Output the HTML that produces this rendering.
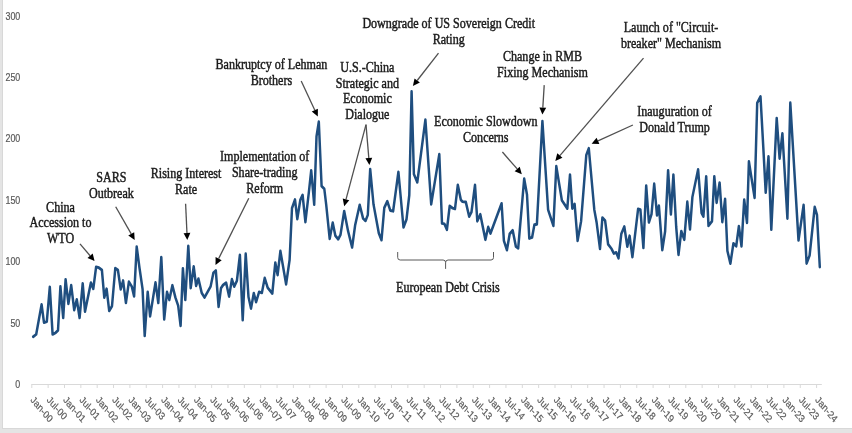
<!DOCTYPE html><html><head><meta charset="utf-8"><style>html,body{margin:0;padding:0;background:#e4e4e4;}svg{display:block;}</style></head><body>
<svg width="852" height="433" viewBox="0 0 852 433">
<rect x="0" y="0" width="852" height="433" fill="#e4e4e4"/>
<rect x="2" y="0" width="850" height="429" fill="#d8d8d8"/>
<rect x="3" y="0" width="849" height="428" fill="#ffffff"/>
<g>
<text transform="translate(20.3,388) scale(0.855,1)" text-anchor="end" font-family="Liberation Sans, sans-serif" font-size="10.4" fill="#595959" stroke="#595959" stroke-width="0.2">0</text>
<text transform="translate(20.3,326.58) scale(0.855,1)" text-anchor="end" font-family="Liberation Sans, sans-serif" font-size="10.4" fill="#595959" stroke="#595959" stroke-width="0.2">50</text>
<text transform="translate(20.3,265.17) scale(0.855,1)" text-anchor="end" font-family="Liberation Sans, sans-serif" font-size="10.4" fill="#595959" stroke="#595959" stroke-width="0.2">100</text>
<text transform="translate(20.3,203.75) scale(0.855,1)" text-anchor="end" font-family="Liberation Sans, sans-serif" font-size="10.4" fill="#595959" stroke="#595959" stroke-width="0.2">150</text>
<text transform="translate(20.3,142.34) scale(0.855,1)" text-anchor="end" font-family="Liberation Sans, sans-serif" font-size="10.4" fill="#595959" stroke="#595959" stroke-width="0.2">200</text>
<text transform="translate(20.3,80.92) scale(0.855,1)" text-anchor="end" font-family="Liberation Sans, sans-serif" font-size="10.4" fill="#595959" stroke="#595959" stroke-width="0.2">250</text>
<text transform="translate(20.3,19.51) scale(0.855,1)" text-anchor="end" font-family="Liberation Sans, sans-serif" font-size="10.4" fill="#595959" stroke="#595959" stroke-width="0.2">300</text>
<line x1="31.3" y1="384.5" x2="821.8" y2="384.5" stroke="#d9d9d9" stroke-width="1"/>
<line x1="31.8" y1="384.5" x2="31.8" y2="388" stroke="#d9d9d9" stroke-width="1"/>
<line x1="48.15" y1="384.5" x2="48.15" y2="388" stroke="#d9d9d9" stroke-width="1"/>
<line x1="64.5" y1="384.5" x2="64.5" y2="388" stroke="#d9d9d9" stroke-width="1"/>
<line x1="80.85" y1="384.5" x2="80.85" y2="388" stroke="#d9d9d9" stroke-width="1"/>
<line x1="97.2" y1="384.5" x2="97.2" y2="388" stroke="#d9d9d9" stroke-width="1"/>
<line x1="113.55" y1="384.5" x2="113.55" y2="388" stroke="#d9d9d9" stroke-width="1"/>
<line x1="129.9" y1="384.5" x2="129.9" y2="388" stroke="#d9d9d9" stroke-width="1"/>
<line x1="146.25" y1="384.5" x2="146.25" y2="388" stroke="#d9d9d9" stroke-width="1"/>
<line x1="162.6" y1="384.5" x2="162.6" y2="388" stroke="#d9d9d9" stroke-width="1"/>
<line x1="178.95" y1="384.5" x2="178.95" y2="388" stroke="#d9d9d9" stroke-width="1"/>
<line x1="195.3" y1="384.5" x2="195.3" y2="388" stroke="#d9d9d9" stroke-width="1"/>
<line x1="211.65" y1="384.5" x2="211.65" y2="388" stroke="#d9d9d9" stroke-width="1"/>
<line x1="228" y1="384.5" x2="228" y2="388" stroke="#d9d9d9" stroke-width="1"/>
<line x1="244.35" y1="384.5" x2="244.35" y2="388" stroke="#d9d9d9" stroke-width="1"/>
<line x1="260.7" y1="384.5" x2="260.7" y2="388" stroke="#d9d9d9" stroke-width="1"/>
<line x1="277.05" y1="384.5" x2="277.05" y2="388" stroke="#d9d9d9" stroke-width="1"/>
<line x1="293.4" y1="384.5" x2="293.4" y2="388" stroke="#d9d9d9" stroke-width="1"/>
<line x1="309.75" y1="384.5" x2="309.75" y2="388" stroke="#d9d9d9" stroke-width="1"/>
<line x1="326.1" y1="384.5" x2="326.1" y2="388" stroke="#d9d9d9" stroke-width="1"/>
<line x1="342.45" y1="384.5" x2="342.45" y2="388" stroke="#d9d9d9" stroke-width="1"/>
<line x1="358.8" y1="384.5" x2="358.8" y2="388" stroke="#d9d9d9" stroke-width="1"/>
<line x1="375.15" y1="384.5" x2="375.15" y2="388" stroke="#d9d9d9" stroke-width="1"/>
<line x1="391.5" y1="384.5" x2="391.5" y2="388" stroke="#d9d9d9" stroke-width="1"/>
<line x1="407.85" y1="384.5" x2="407.85" y2="388" stroke="#d9d9d9" stroke-width="1"/>
<line x1="424.2" y1="384.5" x2="424.2" y2="388" stroke="#d9d9d9" stroke-width="1"/>
<line x1="440.55" y1="384.5" x2="440.55" y2="388" stroke="#d9d9d9" stroke-width="1"/>
<line x1="456.9" y1="384.5" x2="456.9" y2="388" stroke="#d9d9d9" stroke-width="1"/>
<line x1="473.25" y1="384.5" x2="473.25" y2="388" stroke="#d9d9d9" stroke-width="1"/>
<line x1="489.6" y1="384.5" x2="489.6" y2="388" stroke="#d9d9d9" stroke-width="1"/>
<line x1="505.95" y1="384.5" x2="505.95" y2="388" stroke="#d9d9d9" stroke-width="1"/>
<line x1="522.3" y1="384.5" x2="522.3" y2="388" stroke="#d9d9d9" stroke-width="1"/>
<line x1="538.65" y1="384.5" x2="538.65" y2="388" stroke="#d9d9d9" stroke-width="1"/>
<line x1="555" y1="384.5" x2="555" y2="388" stroke="#d9d9d9" stroke-width="1"/>
<line x1="571.35" y1="384.5" x2="571.35" y2="388" stroke="#d9d9d9" stroke-width="1"/>
<line x1="587.7" y1="384.5" x2="587.7" y2="388" stroke="#d9d9d9" stroke-width="1"/>
<line x1="604.05" y1="384.5" x2="604.05" y2="388" stroke="#d9d9d9" stroke-width="1"/>
<line x1="620.4" y1="384.5" x2="620.4" y2="388" stroke="#d9d9d9" stroke-width="1"/>
<line x1="636.75" y1="384.5" x2="636.75" y2="388" stroke="#d9d9d9" stroke-width="1"/>
<line x1="653.1" y1="384.5" x2="653.1" y2="388" stroke="#d9d9d9" stroke-width="1"/>
<line x1="669.45" y1="384.5" x2="669.45" y2="388" stroke="#d9d9d9" stroke-width="1"/>
<line x1="685.8" y1="384.5" x2="685.8" y2="388" stroke="#d9d9d9" stroke-width="1"/>
<line x1="702.15" y1="384.5" x2="702.15" y2="388" stroke="#d9d9d9" stroke-width="1"/>
<line x1="718.5" y1="384.5" x2="718.5" y2="388" stroke="#d9d9d9" stroke-width="1"/>
<line x1="734.85" y1="384.5" x2="734.85" y2="388" stroke="#d9d9d9" stroke-width="1"/>
<line x1="751.2" y1="384.5" x2="751.2" y2="388" stroke="#d9d9d9" stroke-width="1"/>
<line x1="767.55" y1="384.5" x2="767.55" y2="388" stroke="#d9d9d9" stroke-width="1"/>
<line x1="783.9" y1="384.5" x2="783.9" y2="388" stroke="#d9d9d9" stroke-width="1"/>
<line x1="800.25" y1="384.5" x2="800.25" y2="388" stroke="#d9d9d9" stroke-width="1"/>
<line x1="816.6" y1="384.5" x2="816.6" y2="388" stroke="#d9d9d9" stroke-width="1"/>
<text transform="translate(30,400.6) scale(0.855,1) rotate(45)" font-family="Liberation Sans, sans-serif" font-size="10.4" fill="#595959" stroke="#595959" stroke-width="0.2">Jan-00</text>
<text transform="translate(46.35,400.6) scale(0.855,1) rotate(45)" font-family="Liberation Sans, sans-serif" font-size="10.4" fill="#595959" stroke="#595959" stroke-width="0.2">Jul-00</text>
<text transform="translate(62.7,400.6) scale(0.855,1) rotate(45)" font-family="Liberation Sans, sans-serif" font-size="10.4" fill="#595959" stroke="#595959" stroke-width="0.2">Jan-01</text>
<text transform="translate(79.05,400.6) scale(0.855,1) rotate(45)" font-family="Liberation Sans, sans-serif" font-size="10.4" fill="#595959" stroke="#595959" stroke-width="0.2">Jul-01</text>
<text transform="translate(95.4,400.6) scale(0.855,1) rotate(45)" font-family="Liberation Sans, sans-serif" font-size="10.4" fill="#595959" stroke="#595959" stroke-width="0.2">Jan-02</text>
<text transform="translate(111.75,400.6) scale(0.855,1) rotate(45)" font-family="Liberation Sans, sans-serif" font-size="10.4" fill="#595959" stroke="#595959" stroke-width="0.2">Jul-02</text>
<text transform="translate(128.1,400.6) scale(0.855,1) rotate(45)" font-family="Liberation Sans, sans-serif" font-size="10.4" fill="#595959" stroke="#595959" stroke-width="0.2">Jan-03</text>
<text transform="translate(144.45,400.6) scale(0.855,1) rotate(45)" font-family="Liberation Sans, sans-serif" font-size="10.4" fill="#595959" stroke="#595959" stroke-width="0.2">Jul-03</text>
<text transform="translate(160.8,400.6) scale(0.855,1) rotate(45)" font-family="Liberation Sans, sans-serif" font-size="10.4" fill="#595959" stroke="#595959" stroke-width="0.2">Jan-04</text>
<text transform="translate(177.15,400.6) scale(0.855,1) rotate(45)" font-family="Liberation Sans, sans-serif" font-size="10.4" fill="#595959" stroke="#595959" stroke-width="0.2">Jul-04</text>
<text transform="translate(193.5,400.6) scale(0.855,1) rotate(45)" font-family="Liberation Sans, sans-serif" font-size="10.4" fill="#595959" stroke="#595959" stroke-width="0.2">Jan-05</text>
<text transform="translate(209.85,400.6) scale(0.855,1) rotate(45)" font-family="Liberation Sans, sans-serif" font-size="10.4" fill="#595959" stroke="#595959" stroke-width="0.2">Jul-05</text>
<text transform="translate(226.2,400.6) scale(0.855,1) rotate(45)" font-family="Liberation Sans, sans-serif" font-size="10.4" fill="#595959" stroke="#595959" stroke-width="0.2">Jan-06</text>
<text transform="translate(242.55,400.6) scale(0.855,1) rotate(45)" font-family="Liberation Sans, sans-serif" font-size="10.4" fill="#595959" stroke="#595959" stroke-width="0.2">Jul-06</text>
<text transform="translate(258.9,400.6) scale(0.855,1) rotate(45)" font-family="Liberation Sans, sans-serif" font-size="10.4" fill="#595959" stroke="#595959" stroke-width="0.2">Jan-07</text>
<text transform="translate(275.25,400.6) scale(0.855,1) rotate(45)" font-family="Liberation Sans, sans-serif" font-size="10.4" fill="#595959" stroke="#595959" stroke-width="0.2">Jul-07</text>
<text transform="translate(291.6,400.6) scale(0.855,1) rotate(45)" font-family="Liberation Sans, sans-serif" font-size="10.4" fill="#595959" stroke="#595959" stroke-width="0.2">Jan-08</text>
<text transform="translate(307.95,400.6) scale(0.855,1) rotate(45)" font-family="Liberation Sans, sans-serif" font-size="10.4" fill="#595959" stroke="#595959" stroke-width="0.2">Jul-08</text>
<text transform="translate(324.3,400.6) scale(0.855,1) rotate(45)" font-family="Liberation Sans, sans-serif" font-size="10.4" fill="#595959" stroke="#595959" stroke-width="0.2">Jan-09</text>
<text transform="translate(340.65,400.6) scale(0.855,1) rotate(45)" font-family="Liberation Sans, sans-serif" font-size="10.4" fill="#595959" stroke="#595959" stroke-width="0.2">Jul-09</text>
<text transform="translate(357,400.6) scale(0.855,1) rotate(45)" font-family="Liberation Sans, sans-serif" font-size="10.4" fill="#595959" stroke="#595959" stroke-width="0.2">Jan-10</text>
<text transform="translate(373.35,400.6) scale(0.855,1) rotate(45)" font-family="Liberation Sans, sans-serif" font-size="10.4" fill="#595959" stroke="#595959" stroke-width="0.2">Jul-10</text>
<text transform="translate(389.7,400.6) scale(0.855,1) rotate(45)" font-family="Liberation Sans, sans-serif" font-size="10.4" fill="#595959" stroke="#595959" stroke-width="0.2">Jan-11</text>
<text transform="translate(406.05,400.6) scale(0.855,1) rotate(45)" font-family="Liberation Sans, sans-serif" font-size="10.4" fill="#595959" stroke="#595959" stroke-width="0.2">Jul-11</text>
<text transform="translate(422.4,400.6) scale(0.855,1) rotate(45)" font-family="Liberation Sans, sans-serif" font-size="10.4" fill="#595959" stroke="#595959" stroke-width="0.2">Jan-12</text>
<text transform="translate(438.75,400.6) scale(0.855,1) rotate(45)" font-family="Liberation Sans, sans-serif" font-size="10.4" fill="#595959" stroke="#595959" stroke-width="0.2">Jul-12</text>
<text transform="translate(455.1,400.6) scale(0.855,1) rotate(45)" font-family="Liberation Sans, sans-serif" font-size="10.4" fill="#595959" stroke="#595959" stroke-width="0.2">Jan-13</text>
<text transform="translate(471.45,400.6) scale(0.855,1) rotate(45)" font-family="Liberation Sans, sans-serif" font-size="10.4" fill="#595959" stroke="#595959" stroke-width="0.2">Jul-13</text>
<text transform="translate(487.8,400.6) scale(0.855,1) rotate(45)" font-family="Liberation Sans, sans-serif" font-size="10.4" fill="#595959" stroke="#595959" stroke-width="0.2">Jan-14</text>
<text transform="translate(504.15,400.6) scale(0.855,1) rotate(45)" font-family="Liberation Sans, sans-serif" font-size="10.4" fill="#595959" stroke="#595959" stroke-width="0.2">Jul-14</text>
<text transform="translate(520.5,400.6) scale(0.855,1) rotate(45)" font-family="Liberation Sans, sans-serif" font-size="10.4" fill="#595959" stroke="#595959" stroke-width="0.2">Jan-15</text>
<text transform="translate(536.85,400.6) scale(0.855,1) rotate(45)" font-family="Liberation Sans, sans-serif" font-size="10.4" fill="#595959" stroke="#595959" stroke-width="0.2">Jul-15</text>
<text transform="translate(553.2,400.6) scale(0.855,1) rotate(45)" font-family="Liberation Sans, sans-serif" font-size="10.4" fill="#595959" stroke="#595959" stroke-width="0.2">Jan-16</text>
<text transform="translate(569.55,400.6) scale(0.855,1) rotate(45)" font-family="Liberation Sans, sans-serif" font-size="10.4" fill="#595959" stroke="#595959" stroke-width="0.2">Jul-16</text>
<text transform="translate(585.9,400.6) scale(0.855,1) rotate(45)" font-family="Liberation Sans, sans-serif" font-size="10.4" fill="#595959" stroke="#595959" stroke-width="0.2">Jan-17</text>
<text transform="translate(602.25,400.6) scale(0.855,1) rotate(45)" font-family="Liberation Sans, sans-serif" font-size="10.4" fill="#595959" stroke="#595959" stroke-width="0.2">Jul-17</text>
<text transform="translate(618.6,400.6) scale(0.855,1) rotate(45)" font-family="Liberation Sans, sans-serif" font-size="10.4" fill="#595959" stroke="#595959" stroke-width="0.2">Jan-18</text>
<text transform="translate(634.95,400.6) scale(0.855,1) rotate(45)" font-family="Liberation Sans, sans-serif" font-size="10.4" fill="#595959" stroke="#595959" stroke-width="0.2">Jul-18</text>
<text transform="translate(651.3,400.6) scale(0.855,1) rotate(45)" font-family="Liberation Sans, sans-serif" font-size="10.4" fill="#595959" stroke="#595959" stroke-width="0.2">Jan-19</text>
<text transform="translate(667.65,400.6) scale(0.855,1) rotate(45)" font-family="Liberation Sans, sans-serif" font-size="10.4" fill="#595959" stroke="#595959" stroke-width="0.2">Jul-19</text>
<text transform="translate(684,400.6) scale(0.855,1) rotate(45)" font-family="Liberation Sans, sans-serif" font-size="10.4" fill="#595959" stroke="#595959" stroke-width="0.2">Jan-20</text>
<text transform="translate(700.35,400.6) scale(0.855,1) rotate(45)" font-family="Liberation Sans, sans-serif" font-size="10.4" fill="#595959" stroke="#595959" stroke-width="0.2">Jul-20</text>
<text transform="translate(716.7,400.6) scale(0.855,1) rotate(45)" font-family="Liberation Sans, sans-serif" font-size="10.4" fill="#595959" stroke="#595959" stroke-width="0.2">Jan-21</text>
<text transform="translate(733.05,400.6) scale(0.855,1) rotate(45)" font-family="Liberation Sans, sans-serif" font-size="10.4" fill="#595959" stroke="#595959" stroke-width="0.2">Jul-21</text>
<text transform="translate(749.4,400.6) scale(0.855,1) rotate(45)" font-family="Liberation Sans, sans-serif" font-size="10.4" fill="#595959" stroke="#595959" stroke-width="0.2">Jan-22</text>
<text transform="translate(765.75,400.6) scale(0.855,1) rotate(45)" font-family="Liberation Sans, sans-serif" font-size="10.4" fill="#595959" stroke="#595959" stroke-width="0.2">Jul-22</text>
<text transform="translate(782.1,400.6) scale(0.855,1) rotate(45)" font-family="Liberation Sans, sans-serif" font-size="10.4" fill="#595959" stroke="#595959" stroke-width="0.2">Jan-23</text>
<text transform="translate(798.45,400.6) scale(0.855,1) rotate(45)" font-family="Liberation Sans, sans-serif" font-size="10.4" fill="#595959" stroke="#595959" stroke-width="0.2">Jul-23</text>
<text transform="translate(814.8,400.6) scale(0.855,1) rotate(45)" font-family="Liberation Sans, sans-serif" font-size="10.4" fill="#595959" stroke="#595959" stroke-width="0.2">Jan-24</text>
<g transform="scale(0.855,1)"><polyline fill="none" stroke="#1f4e7f" stroke-width="2.9" stroke-linejoin="round" stroke-linecap="round" points="38.83,336.7 42.34,334.4 48.65,304.5 51.46,322.6 54.74,321.7 58.25,286.9 61.52,334.4 65.15,332.7 67.84,330.4 70.64,286.5 73.92,317.9 76.73,279.4 80,303.8 83.27,285.3 86.78,310 89.82,299.4 93.1,317.9 96.73,283.4 99.42,311.6 106.32,282.7 109.12,288.8 112.4,267 115.67,267.7 119.18,270 121.99,297.5 124.68,288.8 127.72,310.9 130.99,306.2 134.85,268.2 137.89,270 141.17,289.3 143.98,280.6 147.25,302.9 150.76,281.8 154.15,286.5 156.84,296.3 159.88,246.6 163.16,268 166.78,289.3 169.24,335.8 172.75,291.9 175.56,316.3 181.87,282.5 185.15,302.9 188.65,257.1 192.05,319.3 195.32,291.9 198.01,299.9 201.64,285.3 205.15,297.5 208.42,305.7 211.23,325.7 213.92,268.4 216.73,299.9 220.23,245.9 223.04,288.1 226.55,266.5 229.36,285.8 232.05,278.7 235.91,292.8 239.18,297.5 246.32,286.5 249.59,272.9 252.4,270.5 255.67,306.9 258.48,288.1 260.94,285 264.44,282.7 267.95,296.5 271.23,279.2 273.92,286.6 277.08,280.8 280.58,254.9 283.86,320.1 287.37,253.8 290.64,297 293.57,308.5 296.84,293.1 299.53,302.1 303.04,291.9 306.32,292.8 309.59,278 313.1,287.7 318.48,293.5 321.99,262.6 324.68,275 327.95,251 334.62,284.3 338.71,260 341.52,208.1 345.03,199.6 347.72,219 351.23,200 353.92,195 357.19,222 361.29,191.9 363.98,170.4 367.49,204.6 370.18,136.6 372.87,121.8 376.14,186.2 379.3,188.9 381.52,204.6 385.61,238.8 389.12,222.7 392.28,235.8 395.56,239.3 398.25,234.7 402.57,211.1 407.13,231.2 411.81,247.4 415.32,225.4 420.7,204.9 424.68,218.5 427.49,220.8 430.18,215 432.98,169.2 436.84,204.3 443.04,233.1 446.2,240.1 449.47,207.7 452.98,201.3 456.49,210.5 459.77,211.2 465.96,171.9 471.93,227.4 475.44,219.3 478.71,195 481.4,91.5 484.09,174.2 488.07,182.3 497.54,119.7 504.33,204.3 513.8,154.2 516.96,223.4 519.77,223.9 522.69,229.7 525.96,205.9 529.47,208.2 532.16,208.9 535.44,184.9 538.95,199.7 540.7,201.6 544.8,202 548.77,216.6 551.46,212 555.56,184.9 558.25,221.2 561.75,214.3 567.72,239.7 570.99,227 573.68,233.4 586.67,203.4 589.36,240.8 592.87,250.1 596.14,233.9 599.65,230.4 603.39,246.6 606.08,248.2 613.1,178.7 616.37,194.6 619.06,238.5 622.34,237.4 625.03,224.7 627.95,224.2 634.39,121.1 641.05,209.7 647.25,225.8 650.64,166.2 657.19,200.4 663.51,208.5 666.67,174.6 669.36,208.5 672.05,203.9 675.56,240.8 679.65,221.2 685.73,155 688.65,148.3 695.09,209.7 697.78,222.4 701.75,248.9 704.56,217.7 707.72,220.5 711.23,244.3 715.32,248.9 718.01,253.5 720.7,252.4 723.39,258.2 726.67,233.9 730.18,226.5 733.68,246.6 736.37,235.8 739.65,257 746.32,209 749.01,209.7 752.51,247.8 755.79,185.7 758.95,222.4 761.99,214.3 765.15,183.8 768.42,215.4 770.64,205.7 774.62,250.1 777.89,231.6 781.4,170.4 784.68,214.3 787.6,174.6 790.88,227 793.57,254.7 796.84,231.1 800.35,239.7 803.86,201.8 807.02,229.3 809.82,197 816.49,169.5 820.58,213.1 822.69,216.6 825.96,176.4 828.65,225.8 832.75,221.2 835.44,176.4 838.13,202.7 841.64,182.6 844.8,222 848.07,198.9 850.76,250.8 854.27,263.5 857.78,243.4 861.05,246.2 864.21,226.1 867.25,246.2 870.41,199.6 873.68,222.7 875.91,161.5 882.57,197.7 885.61,103 889.47,96.6 892.87,149.3 895.56,192.6 898.83,156.5 902.11,229.6 908.42,118.2 911.81,158.5 915.09,133.4 920.94,218.5 924.33,102.8 933.92,240.4 939.88,204.9 943.39,263.5 946.9,255.5 952.87,207 955.56,215 958.83,267"/></g>
<text transform="translate(60.5,211.5) scale(0.862,1)" text-anchor="middle" font-family="Liberation Serif, serif" font-size="14" fill="#1a1a1a" stroke="#1a1a1a" stroke-width="0.45">China</text>
<text transform="translate(60.5,227.4) scale(0.862,1)" text-anchor="middle" font-family="Liberation Serif, serif" font-size="14" fill="#1a1a1a" stroke="#1a1a1a" stroke-width="0.45">Accession to</text>
<text transform="translate(60.5,243.3) scale(0.862,1)" text-anchor="middle" font-family="Liberation Serif, serif" font-size="14" fill="#1a1a1a" stroke="#1a1a1a" stroke-width="0.45">WTO</text>
<text transform="translate(111.4,182.4) scale(0.862,1)" text-anchor="middle" font-family="Liberation Serif, serif" font-size="14" fill="#1a1a1a" stroke="#1a1a1a" stroke-width="0.45">SARS</text>
<text transform="translate(111.4,198.3) scale(0.862,1)" text-anchor="middle" font-family="Liberation Serif, serif" font-size="14" fill="#1a1a1a" stroke="#1a1a1a" stroke-width="0.45">Outbreak</text>
<text transform="translate(186.1,178.2) scale(0.862,1)" text-anchor="middle" font-family="Liberation Serif, serif" font-size="14" fill="#1a1a1a" stroke="#1a1a1a" stroke-width="0.45">Rising Interest</text>
<text transform="translate(186.1,194.1) scale(0.862,1)" text-anchor="middle" font-family="Liberation Serif, serif" font-size="14" fill="#1a1a1a" stroke="#1a1a1a" stroke-width="0.45">Rate</text>
<text transform="translate(264.7,160.8) scale(0.862,1)" text-anchor="middle" font-family="Liberation Serif, serif" font-size="14" fill="#1a1a1a" stroke="#1a1a1a" stroke-width="0.45">Implementation of</text>
<text transform="translate(264.7,176.7) scale(0.862,1)" text-anchor="middle" font-family="Liberation Serif, serif" font-size="14" fill="#1a1a1a" stroke="#1a1a1a" stroke-width="0.45">Share-trading</text>
<text transform="translate(264.7,192.6) scale(0.862,1)" text-anchor="middle" font-family="Liberation Serif, serif" font-size="14" fill="#1a1a1a" stroke="#1a1a1a" stroke-width="0.45">Reform</text>
<text transform="translate(271.4,68.6) scale(0.862,1)" text-anchor="middle" font-family="Liberation Serif, serif" font-size="14" fill="#1a1a1a" stroke="#1a1a1a" stroke-width="0.45">Bankruptcy of Lehman</text>
<text transform="translate(271.4,84.5) scale(0.862,1)" text-anchor="middle" font-family="Liberation Serif, serif" font-size="14" fill="#1a1a1a" stroke="#1a1a1a" stroke-width="0.45">Brothers</text>
<text transform="translate(367.35,71.6) scale(0.862,1)" text-anchor="middle" font-family="Liberation Serif, serif" font-size="14" fill="#1a1a1a" stroke="#1a1a1a" stroke-width="0.45">U.S.-China</text>
<text transform="translate(367.35,87.5) scale(0.862,1)" text-anchor="middle" font-family="Liberation Serif, serif" font-size="14" fill="#1a1a1a" stroke="#1a1a1a" stroke-width="0.45">Strategic and</text>
<text transform="translate(367.35,103.4) scale(0.862,1)" text-anchor="middle" font-family="Liberation Serif, serif" font-size="14" fill="#1a1a1a" stroke="#1a1a1a" stroke-width="0.45">Economic</text>
<text transform="translate(367.35,119.3) scale(0.862,1)" text-anchor="middle" font-family="Liberation Serif, serif" font-size="14" fill="#1a1a1a" stroke="#1a1a1a" stroke-width="0.45">Dialogue</text>
<text transform="translate(448.7,27.8) scale(0.862,1)" text-anchor="middle" font-family="Liberation Serif, serif" font-size="14" fill="#1a1a1a" stroke="#1a1a1a" stroke-width="0.45">Downgrade of US Sovereign Credit</text>
<text transform="translate(448.7,44.2) scale(0.862,1)" text-anchor="middle" font-family="Liberation Serif, serif" font-size="14" fill="#1a1a1a" stroke="#1a1a1a" stroke-width="0.45">Rating</text>
<text transform="translate(485.8,126.4) scale(0.862,1)" text-anchor="middle" font-family="Liberation Serif, serif" font-size="14" fill="#1a1a1a" stroke="#1a1a1a" stroke-width="0.45">Economic Slowdown</text>
<text transform="translate(485.8,142.1) scale(0.862,1)" text-anchor="middle" font-family="Liberation Serif, serif" font-size="14" fill="#1a1a1a" stroke="#1a1a1a" stroke-width="0.45">Concerns</text>
<text transform="translate(542.45,61.3) scale(0.862,1)" text-anchor="middle" font-family="Liberation Serif, serif" font-size="14" fill="#1a1a1a" stroke="#1a1a1a" stroke-width="0.45">Change in RMB</text>
<text transform="translate(542.45,77.2) scale(0.862,1)" text-anchor="middle" font-family="Liberation Serif, serif" font-size="14" fill="#1a1a1a" stroke="#1a1a1a" stroke-width="0.45">Fixing Mechanism</text>
<text transform="translate(671,32.2) scale(0.862,1)" text-anchor="middle" font-family="Liberation Serif, serif" font-size="14" fill="#1a1a1a" stroke="#1a1a1a" stroke-width="0.45">Launch of &quot;Circuit-</text>
<text transform="translate(671,48.1) scale(0.862,1)" text-anchor="middle" font-family="Liberation Serif, serif" font-size="14" fill="#1a1a1a" stroke="#1a1a1a" stroke-width="0.45">breaker&quot; Mechanism</text>
<text transform="translate(674.5,116.3) scale(0.862,1)" text-anchor="middle" font-family="Liberation Serif, serif" font-size="14" fill="#1a1a1a" stroke="#1a1a1a" stroke-width="0.45">Inauguration of</text>
<text transform="translate(674.5,132) scale(0.862,1)" text-anchor="middle" font-family="Liberation Serif, serif" font-size="14" fill="#1a1a1a" stroke="#1a1a1a" stroke-width="0.45">Donald Trump</text>
<text transform="translate(447.9,292.1) scale(0.862,1)" text-anchor="middle" font-family="Liberation Serif, serif" font-size="14" fill="#1a1a1a" stroke="#1a1a1a" stroke-width="0.45">European Debt Crisis</text>
<line x1="80" y1="243.8" x2="90.09" y2="255.75" stroke="#505050" stroke-width="1.3"/>
<polygon points="94.6,261.1 87.49,257.94 92.68,253.56" fill="#000"/>
<line x1="115.7" y1="206.8" x2="131.22" y2="233.92" stroke="#505050" stroke-width="1.3"/>
<polygon points="134.7,240 128.27,235.61 134.17,232.24" fill="#000"/>
<line x1="185.6" y1="203.7" x2="186.97" y2="233.01" stroke="#505050" stroke-width="1.3"/>
<polygon points="187.3,240 183.58,233.17 190.37,232.85" fill="#000"/>
<line x1="248.8" y1="198.3" x2="218.63" y2="258.64" stroke="#505050" stroke-width="1.3"/>
<polygon points="215.5,264.9 215.59,257.12 221.67,260.16" fill="#000"/>
<line x1="301.2" y1="81" x2="314.83" y2="110.16" stroke="#505050" stroke-width="1.3"/>
<polygon points="317.8,116.5 311.75,111.6 317.91,108.72" fill="#000"/>
<line x1="366" y1="124.6" x2="346.01" y2="199.44" stroke="#505050" stroke-width="1.3"/>
<polygon points="344.2,206.2 342.72,198.56 349.29,200.31" fill="#000"/>
<line x1="366" y1="124.6" x2="368.81" y2="158.02" stroke="#505050" stroke-width="1.3"/>
<polygon points="369.4,165 365.42,158.31 372.2,157.74" fill="#000"/>
<line x1="438.5" y1="53.1" x2="417.2" y2="80.48" stroke="#505050" stroke-width="1.3"/>
<polygon points="412.9,86 414.52,78.39 419.88,82.56" fill="#000"/>
<line x1="502.4" y1="152" x2="517.19" y2="168.93" stroke="#505050" stroke-width="1.3"/>
<polygon points="521.8,174.2 514.63,171.17 519.75,166.69" fill="#000"/>
<line x1="544.2" y1="85.1" x2="542.83" y2="107.61" stroke="#505050" stroke-width="1.3"/>
<polygon points="542.4,114.6 539.43,107.41 546.22,107.82" fill="#000"/>
<line x1="643.5" y1="58.1" x2="559.86" y2="155.59" stroke="#505050" stroke-width="1.3"/>
<polygon points="555.3,160.9 557.28,153.37 562.44,157.8" fill="#000"/>
<line x1="632.9" y1="125" x2="597.98" y2="140.81" stroke="#505050" stroke-width="1.3"/>
<polygon points="591.6,143.7 596.57,137.72 599.38,143.91" fill="#000"/>
<path d="M397.7,252 L397.7,257.5 Q397.7,260 400.2,260 L443.1,260 Q445.6,260 445.6,262.5 L445.6,268.9 M445.6,262.5 Q445.6,260 448.1,260 L491,260 Q493.5,260 493.5,257.5 L493.5,252" fill="none" stroke="#595959" stroke-width="1"/>
</g>
</svg></body></html>
